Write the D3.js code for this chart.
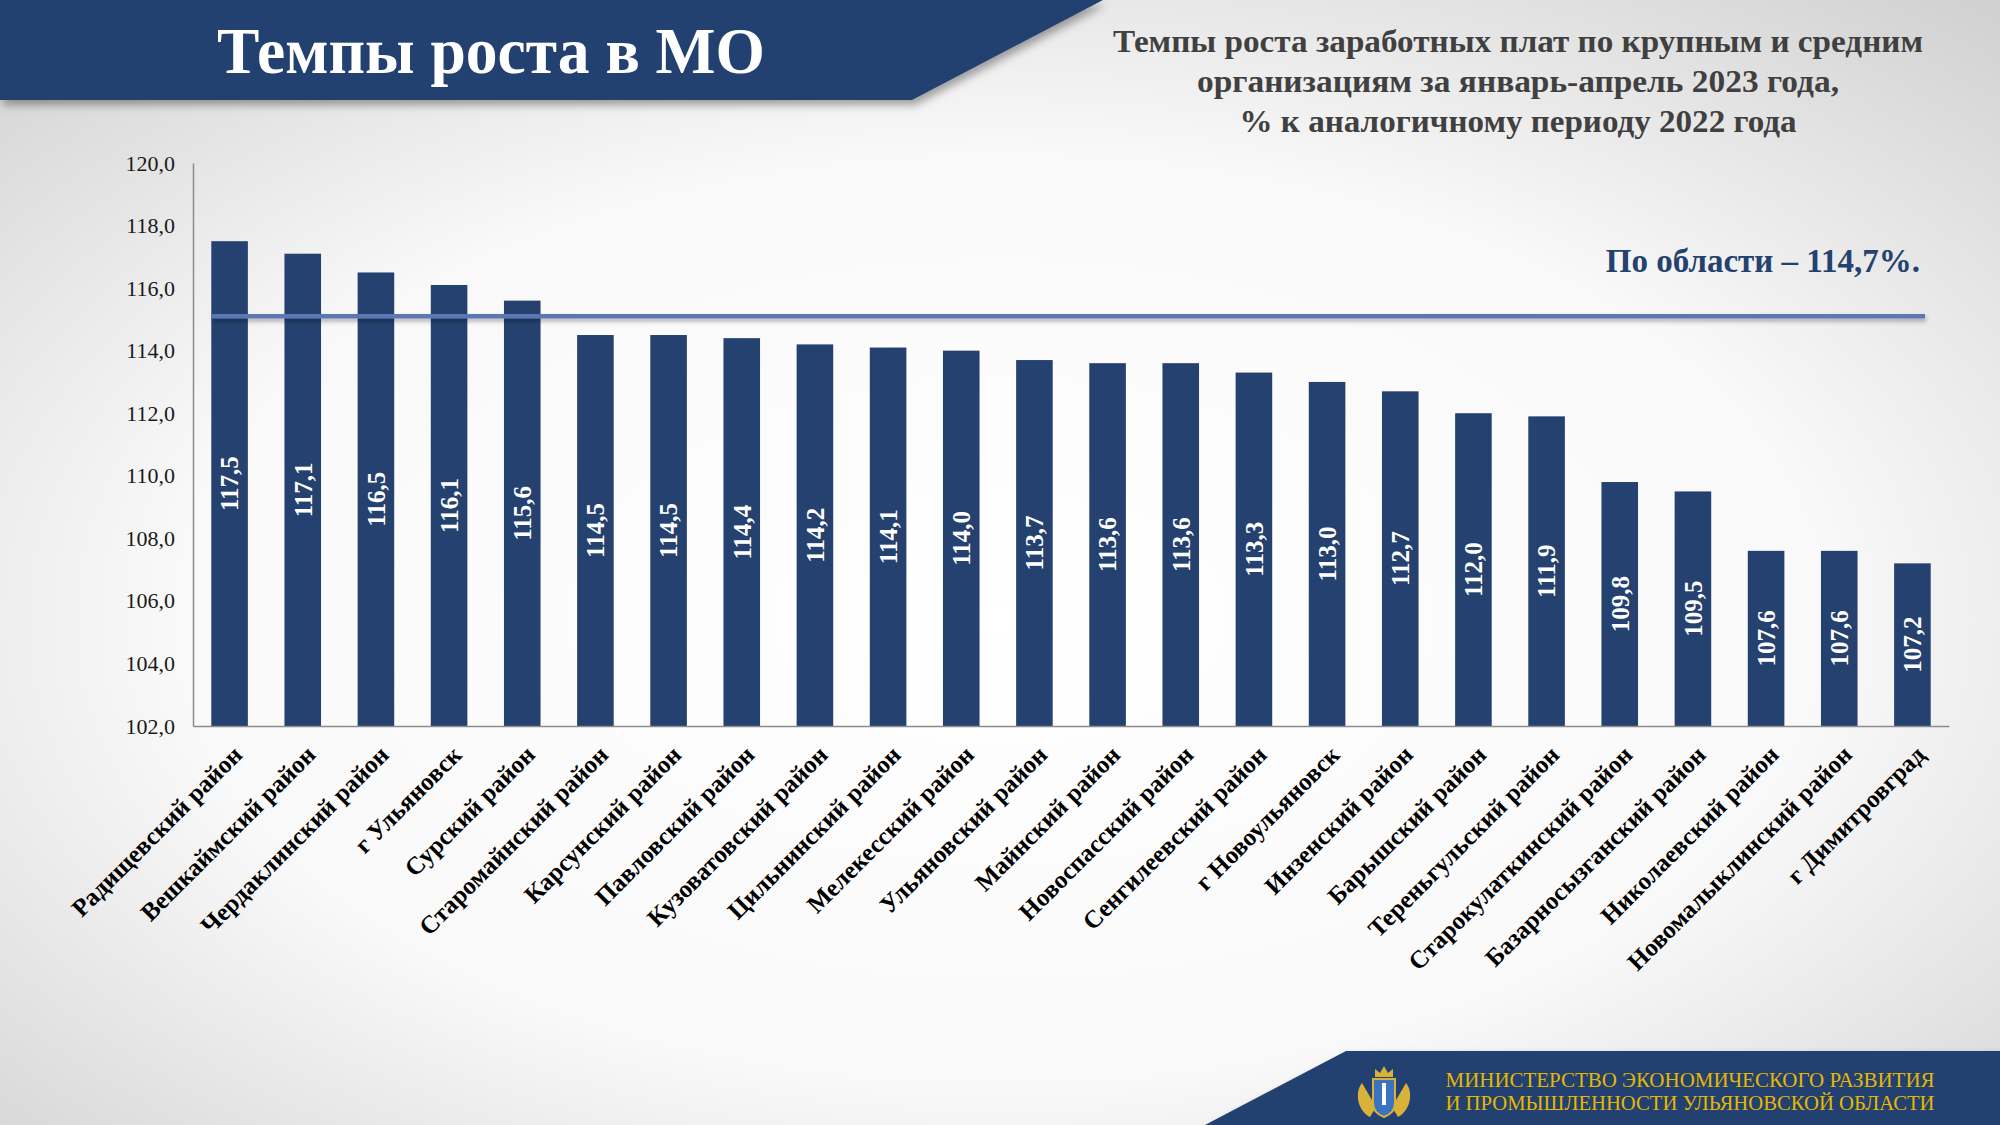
<!DOCTYPE html>
<html><head><meta charset="utf-8">
<script src="https://cdn.jsdelivr.net/npm/d3@7"></script>
<style>html,body{margin:0;padding:0;overflow:hidden;}svg{display:block;}</style>
</head><body>
<script>
const categories = ["Радищевский район","Вешкаймский район","Чердаклинский район","г Ульяновск","Сурский район","Старомайнский район","Карсунский район","Павловский район","Кузоватовский район","Цильнинский район","Мелекесский район","Ульяновский район","Майнский район","Новоспасский район","Сенгилеевский район","г Новоульяновск","Инзенский район","Барышский район","Тереньгульский район","Старокулаткинский район","Базарносызганский район","Николаевский район","Новомалыклинский район","г Димитровград"];
const values = [117.5,117.1,116.5,116.1,115.6,114.5,114.5,114.4,114.2,114.1,114.0,113.7,113.6,113.6,113.3,113.0,112.7,112.0,111.9,109.8,109.5,107.6,107.6,107.2];
const yTicks = [102,104,106,108,110,112,114,116,118,120];
const regionLineValue = 115.1;
const regionLabel = "По области – 114,7%.";
const headerTitle = "Темпы роста в МО";
const subtitleLines = ["Темпы роста заработных плат по крупным и средним","организациям за январь-апрель 2023 года,","% к аналогичному периоду 2022 года"];
const footerLines = ["МИНИСТЕРСТВО ЭКОНОМИЧЕСКОГО РАЗВИТИЯ","И ПРОМЫШЛЕННОСТИ УЛЬЯНОВСКОЙ ОБЛАСТИ"];

const W = 2000, H = 1125;
const navy = "#24416f";
const serif = "'Liberation Serif','DejaVu Serif',serif";
const svg = d3.select("body").append("svg").attr("width", W).attr("height", H);
const defs = svg.append("defs");
const rg = defs.append("radialGradient").attr("id","bg").attr("cx","50%").attr("cy","55%").attr("r","75%");
rg.append("stop").attr("offset","0%").attr("stop-color","#ffffff");
rg.append("stop").attr("offset","55%").attr("stop-color","#f9f9f9");
rg.append("stop").attr("offset","100%").attr("stop-color","#cfcfcf");
const sh = defs.append("filter").attr("id","sh").attr("x","-10%").attr("y","-30%").attr("width","130%").attr("height","180%");
sh.append("feDropShadow").attr("dx",3).attr("dy",5).attr("stdDeviation",4).attr("flood-color","#000").attr("flood-opacity",0.35);
const sh2 = defs.append("filter").attr("id","sh2").attr("filterUnits","userSpaceOnUse").attr("x",0).attr("y",0).attr("width",W).attr("height",H);
sh2.append("feDropShadow").attr("dx",1).attr("dy",3).attr("stdDeviation",2).attr("flood-color","#000").attr("flood-opacity",0.3);

svg.append("rect").attr("width",W).attr("height",H).attr("fill","url(#bg)");

// header band
svg.append("path").attr("d","M0,0 L1103,0 L912,100 L0,100 Z").attr("fill",navy).attr("filter","url(#sh)");
svg.append("text").attr("x",491).attr("y",73).attr("text-anchor","middle")
  .attr("font-family",serif).attr("font-weight","bold").attr("font-size",66).attr("fill","#fff")
  .attr("textLength",548).attr("lengthAdjust","spacingAndGlyphs").text(headerTitle);

// subtitle
const subLens = [810, 642, 557];
subtitleLines.forEach((t,i)=>{
  svg.append("text").attr("x",1518).attr("y",52+i*40).attr("text-anchor","middle")
    .attr("font-family",serif).attr("font-weight","bold").attr("font-size",31).attr("fill","#404040")
    .attr("textLength",subLens[i]).attr("lengthAdjust","spacingAndGlyphs").text(t);
});

// chart
const m = {l:193, r:1949, t:163, b:726};
const x = d3.scaleBand().domain(categories).range([m.l,m.r]).paddingInner(0.5).paddingOuter(0.25);
const y = d3.scaleLinear().domain([102,120]).range([m.b,m.t]);

const yAxis = svg.append("g").attr("transform",`translate(${m.l},0)`)
  .call(d3.axisLeft(y).tickValues(yTicks).tickSize(0).tickPadding(18).tickFormat(d=>d3.format(".1f")(d).replace(".",",")));
yAxis.select(".domain").attr("stroke","#8c8c8c").attr("stroke-width",1.5);
yAxis.selectAll("text").attr("font-family",serif).attr("font-size",22).attr("fill","#1a1a1a");

svg.selectAll("rect.bar").data(values).enter().append("rect").attr("class","bar")
  .attr("x",(d,i)=>x(categories[i])).attr("width",x.bandwidth())
  .attr("y",d=>y(d)).attr("height",d=>y(102)-y(d)).attr("fill",navy);

const xAxis = svg.append("g").attr("transform",`translate(0,${m.b})`)
  .call(d3.axisBottom(x).tickSize(0).tickFormat(""));
xAxis.select(".domain").attr("stroke","#8c8c8c").attr("stroke-width",1.5);

svg.selectAll("text.xl").data(categories).enter().append("text").attr("class","xl")
  .attr("transform",d=>`translate(${x(d)+x.bandwidth()/2+8},${m.b+24}) rotate(-45)`)
  .attr("text-anchor","end").attr("dy","0.35em")
  .attr("font-family",serif).attr("font-weight","bold").attr("font-size",25).attr("fill","#000").text(d=>d);

svg.selectAll("text.vl").data(values).enter().append("text").attr("class","vl")
  .attr("transform",(d,i)=>`translate(${x(categories[i])+x.bandwidth()/2},${(y(d)+y(102))/2}) rotate(-90)`)
  .attr("text-anchor","middle").attr("dy","0.35em")
  .attr("font-family",serif).attr("font-weight","bold").attr("font-size",25).attr("fill","#fff")
  .text(d=>d3.format(".1f")(d).replace(".",","));

// region line
svg.append("line").attr("x1",212).attr("x2",1925).attr("y1",y(regionLineValue)).attr("y2",y(regionLineValue))
  .attr("stroke","#5b78b3").attr("stroke-width",4.5).attr("filter","url(#sh2)");
svg.append("text").attr("x",1920).attr("y",272).attr("text-anchor","end")
  .attr("font-family",serif).attr("font-weight","bold").attr("font-size",33).attr("fill",navy).text(regionLabel);

// footer band
svg.append("path").attr("d",`M1346,1051 L${W},1051 L${W},${H} L1205,${H} Z`).attr("fill",navy).attr("filter","url(#sh)");
// emblem (simplified)
const em = svg.append("g").attr("transform","translate(1384,1093)");
em.append("path").attr("d","M-22,-10 C-30,0 -26,18 -14,24 L-8,14 Z M22,-10 C30,0 26,18 14,24 L8,14 Z").attr("fill","#d8b23a");
em.append("path").attr("d","M-11,-14 L11,-14 L11,10 Q11,20 0,24 Q-11,20 -11,10 Z").attr("fill","#3b73c0").attr("stroke","#d8b23a").attr("stroke-width",2);
em.append("rect").attr("x",-2).attr("y",-10).attr("width",4).attr("height",22).attr("fill","#fff");
em.append("path").attr("d","M-9,-16 L-9,-24 L-4,-20 L0,-27 L4,-20 L9,-24 L9,-16 Z").attr("fill","#d8b23a");
footerLines.forEach((t,i)=>{
  svg.append("text").attr("x",1690).attr("y",1087+i*23).attr("text-anchor","middle")
    .attr("font-family",serif).attr("font-size",21).attr("fill","#e6b800")
    .attr("textLength",489).attr("lengthAdjust","spacingAndGlyphs").text(t);
});
</script>
</body></html>
